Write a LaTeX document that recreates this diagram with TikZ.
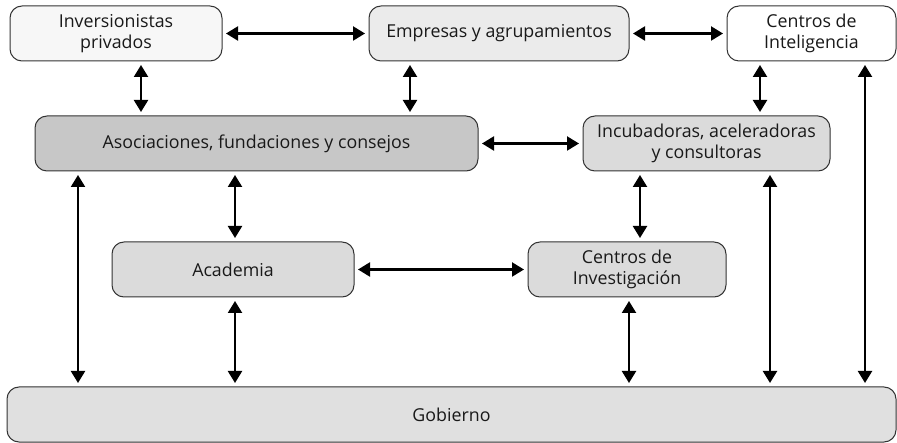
\documentclass[tikz,border=0pt]{standalone}
\usepackage{fontspec}
\setmainfont{Open Sans}
\usetikzlibrary{arrows.meta}

\begin{document}
\begin{tikzpicture}
[x=1pt,y=-1pt
,blk/.style={draw=black!80,rounded corners=12pt,line width=1pt,minimum height=55pt,inner sep=0pt,align=center,text=black!90,font=\fontsize{17.8}{21}\selectfont}
,lnk/.style={line width=2.2pt,arrows={Triangle[length=12pt,width=14pt]-Triangle[length=12pt,width=14pt]},shorten <=3.5pt,shorten >=3.5pt}
]
\useasboundingbox (0,0) rectangle (897,443);
\node[blk,fill=black!3,minimum width=212pt] (inv) at (116,33.5) {Inversionistas\\privados};
\node[blk,fill=black!8,minimum width=260pt] (emp) at (499,33.5) {Empresas y agrupamientos};
\node[blk,fill=white,minimum width=169pt] (cint) at (811.5,33.5) {Centros de\\Inteligencia};
\node[blk,fill=black!22,minimum width=443pt] (asoc) at (256.5,143.5) {Asociaciones, fundaciones y consejos};
\node[blk,fill=black!14,minimum width=247pt] (incub) at (706.5,143.5) {Incubadoras, aceleradoras\\y consultoras};
\node[blk,fill=black!14,minimum width=242pt] (acad) at (233,269.5) {Academia};
\node[blk,fill=black!14,minimum width=198pt] (cinv) at (627,269.5) {Centros de\\Investigación};
\node[blk,fill=black!12,minimum width=889pt] (gob) at (451.5,414.5) {Gobierno};
% horizontal links
\draw[lnk] (inv) -- (emp);
\draw[lnk] (emp) -- (cint);
\draw[lnk] (asoc) -- (incub);
\draw[lnk] (acad) -- (cinv);
% vertical links
\draw[lnk] ([xshift=25pt]inv.south) -- ([xshift=25pt]inv.south |- asoc.north);
\draw[lnk] ([xshift=-89pt]emp.south) -- ([xshift=-89pt]emp.south |- asoc.north);
\draw[lnk] ([xshift=-51.5pt]cint.south) -- ([xshift=-51.5pt]cint.south |- incub.north);
\draw[lnk] ([xshift=-178.5pt]asoc.south) -- ([xshift=-178.5pt]asoc.south |- gob.north);
\draw[lnk] ([xshift=2pt]acad.north |- asoc.south) -- ([xshift=2pt]acad.north);
\draw[lnk] ([xshift=2pt]acad.south) -- ([xshift=2pt]acad.south |- gob.north);
\draw[lnk] ([xshift=13pt]cinv.north |- incub.south) -- ([xshift=13pt]cinv.north);
\draw[lnk] ([xshift=2pt]cinv.south) -- ([xshift=2pt]cinv.south |- gob.north);
\draw[lnk] ([xshift=63.5pt]incub.south) -- ([xshift=63.5pt]incub.south |- gob.north);
\draw[lnk] ([xshift=53.5pt]cint.south) -- ([xshift=53.5pt]cint.south |- gob.north);
\end{tikzpicture}
\end{document}
